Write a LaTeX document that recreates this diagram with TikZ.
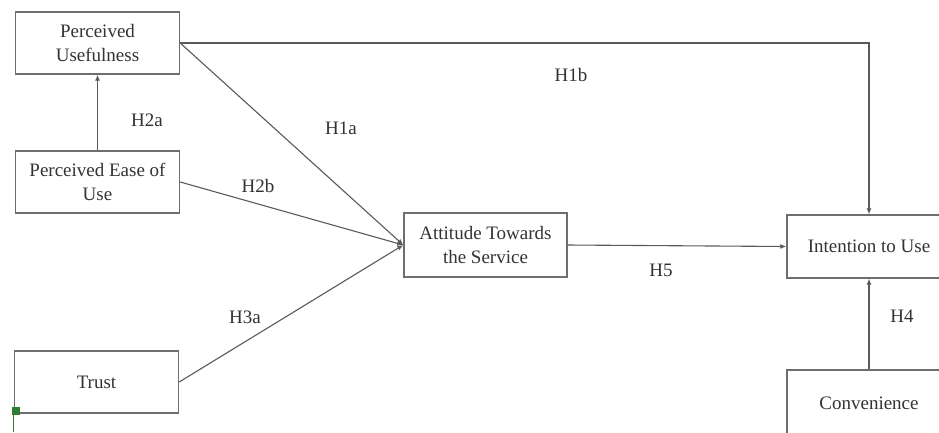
\documentclass[tikz,border=0pt]{standalone}
\usepackage{fontspec}
\setmainfont{Liberation Serif}
\usetikzlibrary{arrows.meta}
\definecolor{boxline}{HTML}{6E6E6E}
\definecolor{conline}{HTML}{5A5A5A}
\definecolor{txt}{HTML}{333333}
\definecolor{marker}{HTML}{2E7D32}
\tikzset{
  varbox/.style={draw=boxline, line width=1.4pt, minimum width=164pt, minimum height=62pt,
    inner sep=0pt, align=center, text=txt, font=\fontsize{19}{23.5}\selectfont},
  link/.style={draw=conline, line width=1.1pt, -{Latex[length=6pt,width=5pt]}},
  hyp/.style={text=txt, font=\fontsize{19}{23}\selectfont, inner sep=0pt}
}
\begin{document}
\begin{tikzpicture}[x=1pt,y=-1pt]
\useasboundingbox (0,0) rectangle (939,432);
\clip (0,0) rectangle (939,432);
\fill[white] (0,0) rectangle (939,432);
% boxes
\node[varbox] (PU) at (97.5,43) {Perceived\\Usefulness};
\node[varbox] (PEOU) at (97.5,182) {Perceived Ease of\\Use};
\node[varbox] (TR) at (96.5,382) {Trust};
\node[varbox, minimum width=163pt, minimum height=64pt] (ATS) at (485.5,245) {Attitude Towards\\the Service};
\node[varbox, minimum height=63pt] (ITU) at (869,246.5) {Intention to Use};
\node[varbox, minimum height=66pt] (CONV) at (869,403) {Convenience};
% connectors
\draw[link] (PEOU.north) -- (PU.south);
\draw[link] (PU.east) -- (ATS.west);
\draw[link] (PEOU.east) -- (ATS.west);
\draw[link] (TR.east) -- (ATS.west);
\draw[link] (PU.east) -| (ITU.north);
\draw[link] (ATS.east) -- (ITU.west);
\draw[link] (CONV.north) -- (ITU.south);
% hypothesis labels
\node[hyp] (h2a) at (147,120) {H2a};
\node[hyp] (h1a) at (341,128) {H1a};
\node[hyp] (h2b) at (258,186) {H2b};
\node[hyp] (h1b) at (571,75) {H1b};
\node[hyp] (h3a) at (245,317) {H3a};
\node[hyp] (h5) at (661,270) {H5};
\node[hyp] (h4) at (902,316) {H4};
% green marker
\draw[marker, line width=1.6pt] (13.5,411) -- (13.5,432);
\fill[marker] (12,407) rectangle (19.5,414.5);
\end{tikzpicture}
\end{document}
